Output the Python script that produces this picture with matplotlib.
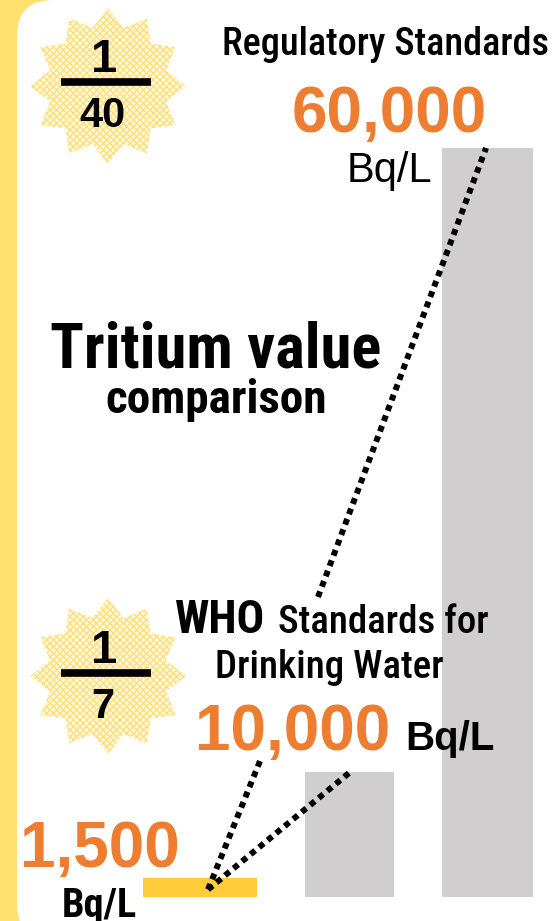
import numpy as np
import matplotlib
matplotlib.use("Agg")
import matplotlib.pyplot as plt
from matplotlib.patches import Polygon, FancyBboxPatch, Rectangle

# tritium concentration, Bq/L
categories = ["Discharge target", "WHO drinking water", "Regulatory standard"]
values = [1500, 10000, 60000]
bar_colors = ["#FFCC3A", "#D0CECE", "#D0CECE"]
unit = "Bq/L"

ORANGE = "#ED7D31"
YELLOW = "#FFE170"
COND = ["Roboto Condensed", "Liberation Sans"]
SANS = ["Liberation Sans", "DejaVu Sans"]

W, H = 553, 921
fig = plt.figure(figsize=(W / 100, H / 100), dpi=100)

# background: yellow strip with white rounded panel
bg = fig.add_axes([0, 0, 1, 1], zorder=0)
bg.set_xlim(0, W)
bg.set_ylim(H, 0)
bg.axis("off")
bg.add_patch(Rectangle((0, 0), 80, H, color=YELLOW, lw=0))
bg.add_patch(FancyBboxPatch((17, 0), 700, 940, boxstyle="round,pad=0,rounding_size=36",
                            fc="white", ec="none"))

plt.rcParams["hatch.linewidth"] = 1.0


def star(cx, cy, r_out, r_in, n=12):
    ang = np.pi / 2 + np.arange(2 * n) * np.pi / n
    r = np.where(np.arange(2 * n) % 2 == 0, r_out, r_in)
    return np.column_stack([cx + r * np.cos(ang), cy - r * np.sin(ang)])


for cy in [86, 676]:
    bg.add_patch(Polygon(star(108, cy, 78, 60), closed=True, fc="#FFF8E2",
                         ec="#FFDF78", hatch="xxxxx", lw=0))

# bars
ax = fig.add_axes([0, (H - 897) / H, 1, (897 - 148) / H], zorder=1)
ax.patch.set_alpha(0)
ax.set_xlim(0, W)
ax.set_ylim(0, max(values))
ax.axis("off")
bar_x = [200, 349.5, 487.5]
bar_w = [114, 89, 91]
ax.bar(bar_x, values, width=bar_w, color=bar_colors, lw=0)

# overlay for text and connectors
ov = fig.add_axes([0, 0, 1, 1], zorder=2)
ov.patch.set_alpha(0)
ov.set_xlim(0, W)
ov.set_ylim(H, 0)
ov.axis("off")


def bar_pt(x, v):
    return ov.transData.inverted().transform(ax.transData.transform((x, v)))


dot = dict(color="black", lw=4.3, ls=(0, (1, 0.85)), dash_capstyle="butt")
p0 = bar_pt(208, values[0] * 0.4)
p1 = bar_pt(350, values[1])
p2 = bar_pt(486, values[2])
ov.plot([p0[0], 260], [p0[1], 761], **dot)
ov.plot([p0[0], p1[0]], [p0[1], p1[1]], **dot)
ov.plot([318, p2[0]], [597, p2[1]], **dot)

# ratio badges
for (ynum, yline, yden), ratio in zip([(72, 82, 127), (663, 673, 718)],
                                      [values[2] / values[0], values[1] / values[0]]):
    ov.text(104, ynum, "1", family=SANS, weight="bold", size=34, ha="center", va="baseline")
    ov.plot([61, 151], [yline, yline], color="black", lw=5.5, solid_capstyle="butt")
    ov.text(103, yden, f"{round(ratio)}", family=SANS, weight="bold", size=30,
            ha="center", va="baseline")

# labels
ov.text(385, 55, "Regulatory Standards", family=COND, weight="medium", size=27.5,
        ha="center", va="baseline")
ov.text(389, 132, f"{values[2]:,}", family=SANS, weight="bold", size=46, color=ORANGE,
        ha="center", va="baseline")
ov.text(389, 182, unit, family=SANS, size=30, ha="center", va="baseline")

ov.text(216, 367, "Tritium value", family=COND, weight="heavy", size=45,
        ha="center", va="baseline")
ov.text(216, 413, "comparison", family=COND, weight="semibold", size=34,
        ha="center", va="baseline")

ov.text(175, 633, "WHO", family=COND, weight="bold", size=33, ha="left", va="baseline")
ov.text(278, 633, "Standards for", family=COND, weight="medium", size=28,
        ha="left", va="baseline")
ov.text(329, 678, "Drinking Water", family=COND, weight="medium", size=28,
        ha="center", va="baseline")
ov.text(390, 750, f"{values[1]:,}", family=SANS, weight="bold", size=46, color=ORANGE,
        ha="right", va="baseline")
ov.text(405, 750, unit, family=SANS, weight="bold", size=29, ha="left", va="baseline")

ov.text(100, 867, f"{values[0]:,}", family=SANS, weight="bold", size=46, color=ORANGE,
        ha="center", va="baseline")
ov.text(99, 917, unit, family=COND, weight="bold", size=29, ha="center", va="baseline")

fig.savefig("out.png", dpi=100)
